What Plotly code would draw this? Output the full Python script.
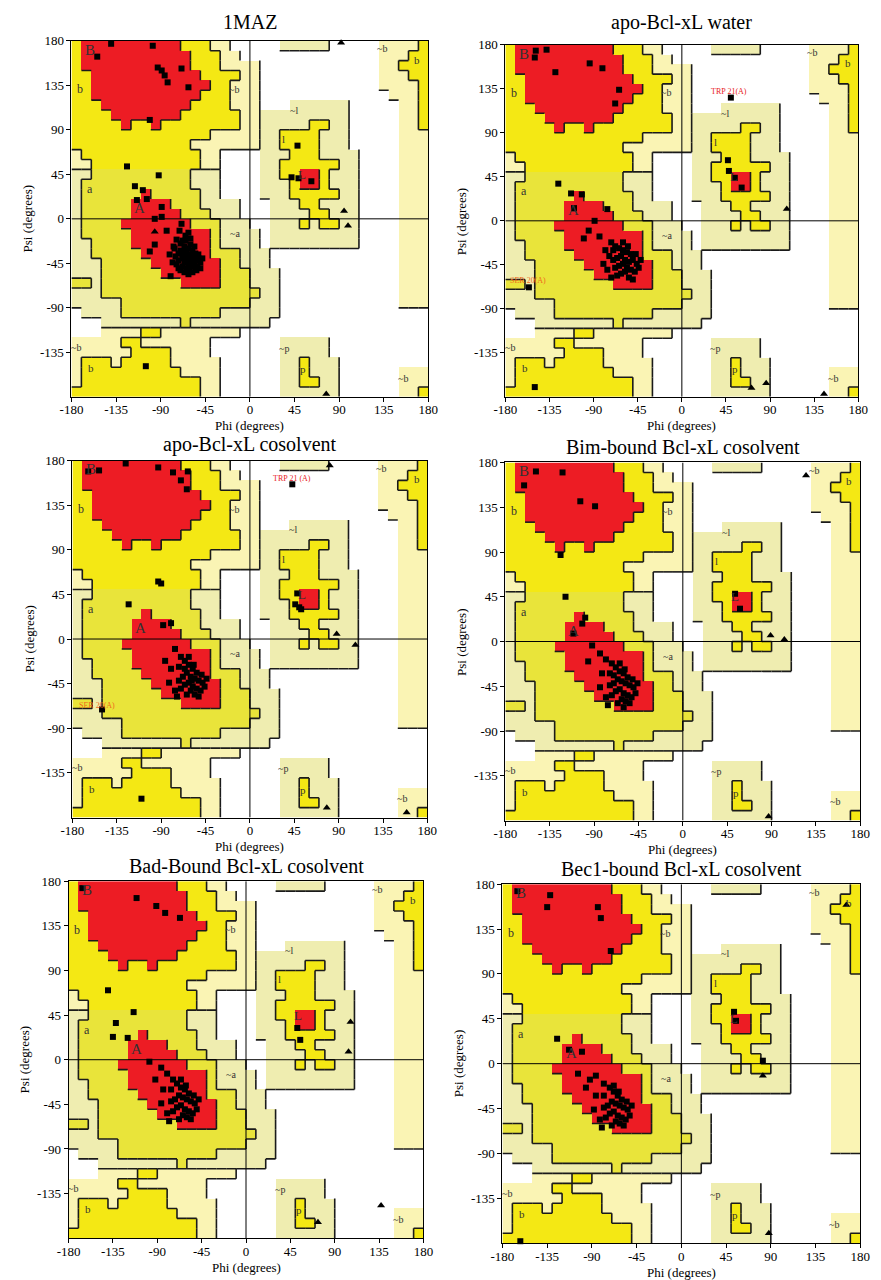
import plotly.graph_objects as go

W, H = 881, 1280

# ---------------- Ramachandran region map (10 deg cells) -----------------
# rows: psi 180 -> -180 (top to bottom); columns: phi -180 -> 180
# R core, Y allowed, P generously allowed, W disallowed
REGION_ROWS = [
    "YRRRRRRRRRRYYYPPWWWWWPPPPPWWWWWPPPPY",
    "YRRRRRRRRRRRYYYPPWWWWWWWWWWWWWWPPPYY",
    "YRRRRRRRRRRRYYYPPPPWWWWWWWWWWWWPPYYY",
    "YYRRRRRRRRRRRYYYYPPWWWWWWWWWWWWPPPYY",
    "YYRRRRRRRRRRRRYYPPPWWWWWWWWWWWWPPPPY",
    "YYRRRRRRRRRRRYYYPPPWWWWWWWWWWWWWPPPY",
    "YYYRRRRRRRRRYYYYPPPWWWPPPPPPWWWWWPPY",
    "YYYYRRRRRRRYYYYYYPPPPPPPPPPPWWWWWPPY",
    "YYYYYRYYRYYYYYYYYPPPPPPPYYPPWWWWWPPY",
    "YYYYYYYYYYYYYYPPPPPPPYYYYPPPWWWWWPPP",
    "YYYYYYYYYYYYPPPPPPPPPYYYYPPPWWWWWPPP",
    "PYYYYYYYYYYYYPPWWWWPPPYYYPPPPWWWWPPP",
    "PPYYYYYYYYYYYPPWWWWPPYYYYYYPPWWWWPPP",
    "PPYYYYYYYYYYPPPWWWWPPYYRRYPPPWWWWPPP",
    "PYYYYYYYYYYYPPPWWWWPPPYRRYPPPWWWWPPP",
    "PYYYYYYRYYYYYPPWWWWPPPYYYYYPPWWWWPPP",
    "PYYYYYRRRRYYYPPPPWWWPPPYYPPPPWWWWPPP",
    "PYYYYYRRRRRYYYPPPWWWPPPPYYPPPWWWWPPP",
    "PYYYYRRRRRRRYYYPPPWWPPPYPYYPPWWWWPPP",
    "PYYYYYRRRRRRRRYPPPPWPPPPPPPPPWWWWPPP",
    "PPYYYYRRRRRRRRYPPPPWPPPPPPPPPWWWWPPP",
    "PPYYYYYRRRRRRRYYYPPPWWWWWWWWWWWWWPPP",
    "PPPYYYYYRRRRRRRYYPPPWWWWWWWWWWWWWPPP",
    "PPPYYYYYYRRRRRRYYYPPPWWWWWWWWWWWWPPP",
    "YYPYYYYYYYYRRRRYYYPPPWWWWWWWWWWWWPPP",
    "PPPYYYYYYYYYYYYYYYYPPWWWWWWWWWWWWPPP",
    "PPPPPYYYYYYYYYYYYYPPPWWWWWWWWWWWWPPP",
    "WPPPPYYYYYYYYYYPPPPPPWWWWWWWWWWWWWWW",
    "WWWPPPPPPPPYPPPPPPPPWWWWWWWWWWWWWWWW",
    "WWWPPPPYYPPPPPPPPWWWWWWWWWWWWWWWWWWW",
    "PPPPPYYPPPPPPPWWWWWWWPPPPPWWWWWWWWWW",
    "PPPPPPYYYYPPPPWWWWWWWPPPPPWWWWWWWWWW",
    "PYYYPYYYYYPPPPPWWWWWWPPYPPPWWWWWWWWW",
    "PYYYYYYYYYYPPPPWWWWWWPPYPPPWWWWWWPPP",
    "PYYYYYYYYYYYYPPWWWWWWPPYYPPWWWWWWPPP",
    "YYYYYYYYYYYYYPPWWWWWWPPPPPPWWWWWWPPY",
]

# region labels: (text, phi, psi, size)
REGION_LABELS = [
    ("B", -161, 171, 15), ("b", -171, 131, 12), ("~b", -16, 131, 10),
    ("a", -161, 30, 12), ("A", -111, 11, 15), ("~a", -15, -15, 10),
    ("~l", 44, 110, 10), ("l", 34, 81, 11), ("L", 53, 45, 13),
    ("~b", 133, 172, 10), ("b", 169, 161, 11), ("~p", 34, -131, 10),
    ("p", 54, -152, 11), ("~b", 154, -161, 10), ("~b", -175, -130, 10),
    ("b", -160, -151, 11),
]

TITLES = ["1MAZ", "apo-Bcl-xL water", "apo-Bcl-xL cosolvent",
          "Bim-bound Bcl-xL cosolvent", "Bad-Bound Bcl-xL cosolvent",
          "Bec1-bound Bcl-xL cosolvent"]

# ---------------- residues (phi, psi) -----------------
p1_res = [(-140, 177), (-98, 175), (-154, 164), (-93, 153), (-89, 150), (-86, 145),
          (-83, 138), (-69, 152), (-62, 133), (-101, 100), (-124, 53), (-92, 44),
          (-116, 33), (-108, 29), (-114, 19), (-104, 20), (-89, 12), (-96, 0), (-89, 2),
          (48, 74), (42, 42), (49, 41), (62, 38), (-105, -149),
          (-69, -5), (-84, -12), (-71, -12), (-96, -26), (-101, -33), (-81, -36),
          (-77, -28), (-80, -58), (-65, -17), (-62, -14), (-74, -21), (-68, -22),
          (-70, -25), (-66, -28), (-62, -30), (-58, -32), (-55, -35), (-60, -36),
          (-64, -38), (-68, -40), (-72, -42), (-66, -44), (-62, -42), (-58, -40),
          (-54, -42), (-50, -44), (-56, -46), (-60, -48), (-64, -50), (-68, -48),
          (-72, -35), (-75, -38), (-70, -32), (-64, -34), (-60, -26), (-56, -28),
          (-52, -36), (-50, -50), (-54, -52), (-58, -54), (-62, -56), (-66, -54),
          (-70, -52), (-74, -46), (-76, -30), (-78, -44), (-68, -36), (-62, -46),
          (-57, -38), (-53, -48), (-48, -40), (-65, -22), (-60, -20), (-72, -50),
          (-59, -44), (-63, -40), (-67, -33), (-55, -50), (-61, -52), (-52, -40)]
p1_gly = [(92, 178), (95, 8), (99, -7), (77, -177), (-96, -13)]

p2_res = [(-149, 174), (-138, 175), (-150, 167), (-129, 152), (-94, 161), (-81, 156),
          (-64, 134), (-68, 120), (-126, 38), (-113, 28), (-102, 27), (-110, 13),
          (-76, 12), (-89, 0), (-95, -10), (-84, -16), (-100, -18),
          (47, 62), (48, 51), (54, 44), (61, 34), (50, 126), (-156, -68), (-150, -170),
          (-72, -22), (-68, -26), (-64, -28), (-60, -30), (-56, -32), (-52, -34),
          (-62, -36), (-66, -38), (-70, -40), (-74, -36), (-58, -40), (-54, -42),
          (-50, -40), (-46, -44), (-60, -44), (-64, -46), (-68, -48), (-56, -48),
          (-52, -50), (-48, -52), (-44, -48), (-58, -52), (-62, -54), (-66, -56),
          (-54, -58), (-50, -60), (-42, -40), (-78, -30), (-80, -44), (-76, -50),
          (-70, -30), (-60, -22), (-55, -26), (-47, -34), (-72, -58)]
p2_gly = [(107, 12), (71, -171), (86, -166), (145, -177)]

p3_res = [(-164, 169), (-153, 170), (-126, 177), (-93, 173), (-78, 168), (-63, 169),
          (-64, 151), (-70, 160), (-93, 58), (-90, 56), (-123, 35), (-88, 14),
          (-80, 16), (43, 156), (48, 46), (50, 32), (46, 35), (52, 30),
          (-150, -71), (-110, -161),
          (-76, -10), (-70, -18), (-66, -22), (-62, -26), (-58, -30), (-54, -34),
          (-64, -34), (-68, -38), (-72, -42), (-60, -38), (-56, -40), (-52, -42),
          (-48, -44), (-62, -44), (-66, -46), (-70, -50), (-58, -48), (-54, -50),
          (-50, -52), (-46, -48), (-60, -52), (-64, -56), (-56, -56), (-52, -58),
          (-44, -40), (-80, -30), (-82, -44), (-76, -52), (-72, -28), (-62, -18),
          (-57, -26), (-49, -36), (-74, -58), (-86, -22), (-66, -30), (-59, -42)]
p3_gly = [(81, 175), (88, 5), (107, -6), (78, -170), (159, -175)]

p4_res = [(-161, 157), (-149, 171), (-122, 170), (-104, 141), (-89, 136), (-124, 87),
          (-119, 45), (-99, 24), (-102, 18), (-111, 8), (58, 33), (53, 48),
          (-92, -4), (-84, -12), (-96, -20), (-78, -18), (-72, -22), (-68, -26),
          (-64, -30), (-60, -32), (-56, -36), (-66, -38), (-70, -42), (-74, -44),
          (-62, -40), (-58, -42), (-54, -44), (-50, -46), (-64, -48), (-68, -50),
          (-72, -54), (-60, -52), (-56, -54), (-52, -56), (-48, -52), (-62, -58),
          (-66, -62), (-58, -60), (-54, -62), (-46, -42), (-82, -32), (-84, -46),
          (-78, -56), (-74, -32), (-64, -22), (-59, -28), (-51, -38), (-76, -64),
          (-60, -66), (-70, -34)]
p4_gly = [(125, 167), (89, 6), (103, 2), (87, -176)]

p5_res = [(-166, 173), (-111, 163), (-91, 155), (-82, 148), (-67, 143),
          (-140, 70), (-114, 48), (-132, 37), (-135, 23), (-120, 22),
          (52, 32), (55, 20),
          (-98, -2), (-86, -8), (-80, -14), (-92, -20), (-74, -20), (-70, -24),
          (-66, -28), (-62, -30), (-58, -34), (-68, -36), (-72, -40), (-76, -42),
          (-64, -38), (-60, -40), (-56, -42), (-52, -44), (-66, -46), (-70, -48),
          (-74, -52), (-62, -50), (-58, -52), (-54, -54), (-50, -50), (-64, -56),
          (-68, -60), (-60, -58), (-56, -60), (-48, -40), (-84, -30), (-86, -44),
          (-80, -54), (-76, -30), (-66, -20), (-61, -26), (-53, -36), (-78, -62)]
p5_gly = [(106, 38), (104, 8), (137, -147), (73, -164)]

p6_res = [(-165, 173), (-135, 157), (-132, 169), (-84, 157), (-81, 146), (-71, 113),
          (-125, 25), (-113, 14), (-100, 12), (53, 52), (55, 43), (82, 3), (-162, -178),
          (-104, -10), (-92, -16), (-86, -12), (-96, -24), (-78, -20), (-72, -24),
          (-68, -28), (-64, -32), (-60, -36), (-70, -38), (-74, -42), (-78, -44),
          (-66, -40), (-62, -42), (-58, -44), (-54, -46), (-68, -48), (-72, -50),
          (-76, -54), (-64, -52), (-60, -54), (-56, -56), (-52, -52), (-66, -58),
          (-70, -62), (-62, -60), (-58, -62), (-50, -42), (-86, -32), (-88, -46),
          (-82, -56), (-78, -32), (-68, -22), (-63, -28), (-55, -38), (-80, -64)]
p6_gly = [(166, 159), (82, -12), (88, -170)]

RESIDUES = [p1_res, p2_res, p3_res, p4_res, p5_res, p6_res]
GLYCINES = [p1_gly, p2_gly, p3_gly, p4_gly, p5_gly, p6_gly]

# labelled outliers: (panel index, text, phi, psi, colour)
OUTLIER_LABELS = [
    (1, "TRP 21(A)", 48, 132, "#e8201c"), (1, "SER 20(A)", -157, -61, "#f06a1c"),
    (2, "TRP 21 (A)", 43, 162, "#e8201c"), (2, "SER 20(A)", -155, -67, "#f06a1c"),
]

TICKS = [-180, -135, -90, -45, 0, 45, 90, 135, 180]

# ---------------- layout geometry (pixels) -----------------
BOXES = [(61, 427, 34, 392), (506, 868, 38, 392),
         (62, 426, 456, 815), (506, 870, 458, 818),
         (58, 422, 879, 1238), (503, 870, 882, 1243)]
TITLE_Y = [15, 16, 440, 442, 864, 867]

CODES = {"W": 0, "Q": 1, "P": 2, "A": 3, "Y": 4, "R": 5}
COLORS = ["#ffffff", "#efedb0", "#faf4b4", "#e9e43a", "#f4e814", "#ed1c24"]


def shade(r, c, ch):
    olive_zone = 13 <= r <= 28 and c <= 18
    green_zone = olive_zone or (19 <= c <= 30)
    if ch == "Y" and olive_zone:
        return "A"
    if ch == "P" and green_zone:
        return "Q"
    return ch


grid = [[shade(r, c, ch) for c, ch in enumerate(row)] for r, row in enumerate(REGION_ROWS)]
z = [[CODES[ch] for ch in row] for row in grid]
n = len(REGION_ROWS)
cell = 360 / n
xc = [-180 + cell * (i + 0.5) for i in range(n)]
yc = [180 - cell * (j + 0.5) for j in range(n)]

colorscale = []
for k, col in enumerate(COLORS):
    colorscale.append([k / len(COLORS), col])
    colorscale.append([(k + 1) / len(COLORS), col])


def fam(ch):
    return {"W": "W", "Q": "Q", "P": "P", "A": "Y", "Y": "Y", "R": "R"}[ch]


# boundary lines: drawn on bottom / right edges of non-white cells
seg_x, seg_y = [], []
for j in range(n):
    for i in range(n):
        a = fam(grid[j][i])
        if a == "W":
            continue
        if j + 1 < n:
            b = fam(grid[j + 1][i])
            if b != a and b != "R":
                yv = 180 - cell * (j + 1)
                seg_x += [-180 + cell * i, -180 + cell * (i + 1), None]
                seg_y += [yv, yv, None]
        if i + 1 < n:
            b = fam(grid[j][i + 1])
            if b != a and b != "R":
                xv = -180 + cell * (i + 1)
                seg_x += [xv, xv, None]
                seg_y += [180 - cell * j, 180 - cell * (j + 1), None]

fig = go.Figure()
layout = dict(width=W, height=H, margin=dict(l=0, r=0, t=0, b=0),
              paper_bgcolor="white", plot_bgcolor="white", showlegend=False)
annotations = []
shapes = []
FONT = "Liberation Serif"

for k in range(6):
    x0, x1, y0, y1 = BOXES[k]
    xa = "x" if k == 0 else f"x{k+1}"
    ya = "y" if k == 0 else f"y{k+1}"
    xkey = "xaxis" if k == 0 else f"xaxis{k+1}"
    ykey = "yaxis" if k == 0 else f"yaxis{k+1}"
    fig.add_trace(go.Heatmap(z=z, x=xc, y=yc, colorscale=colorscale, zmin=-0.5, zmax=5.5,
                             showscale=False, hoverinfo="skip", xaxis=xa, yaxis=ya))
    fig.add_trace(go.Scatter(x=seg_x, y=seg_y, mode="lines",
                             line=dict(color="#1a1a1a", width=1.6),
                             hoverinfo="skip", xaxis=xa, yaxis=ya))
    res = RESIDUES[k]
    gly = GLYCINES[k]
    fig.add_trace(go.Scatter(x=[p[0] for p in res], y=[p[1] for p in res], mode="markers",
                             marker=dict(symbol="square", size=6, color="black"),
                             cliponaxis=False, xaxis=xa, yaxis=ya))
    fig.add_trace(go.Scatter(x=[p[0] for p in gly], y=[p[1] for p in gly], mode="markers",
                             marker=dict(symbol="triangle-up", size=7, color="black"),
                             cliponaxis=False, xaxis=xa, yaxis=ya))
    axis_common = dict(range=[-180, 180], showgrid=False, zeroline=False, showline=True,
                       mirror=True, linecolor="black", linewidth=1, ticks="outside",
                       ticklen=4, tickcolor="black",
                       tickfont=dict(family=FONT, size=13, color="black"))
    layout[xkey] = dict(axis_common, domain=[x0 / W, x1 / W], anchor=ya,
                        tickvals=TICKS, ticktext=[str(t) for t in TICKS],
                        ticklabelstandoff=-3)
    layout[ykey] = dict(axis_common, domain=[1 - y1 / H, 1 - y0 / H], anchor=xa,
                        tickvals=TICKS[1:], ticktext=[str(t) for t in TICKS[1:]])
    # zero lines
    shapes.append(dict(type="line", xref=xa, yref=ya, x0=-180, x1=180, y0=0, y1=0,
                       line=dict(color="black", width=1)))
    shapes.append(dict(type="line", xref=xa, yref=ya, x0=0, x1=0, y0=-180, y1=180,
                       line=dict(color="black", width=1)))
    # titles
    annotations.append(dict(text=TITLES[k], x=(x0 + x1) / 2 / W, y=1 - TITLE_Y[k] / H,
                            xref="paper", yref="paper", showarrow=False,
                            font=dict(family=FONT, size=20, color="black"),
                            xanchor="center", yanchor="middle"))
    annotations.append(dict(text="Phi (degrees)", x=(x0 + x1) / 2 / W, y=1 - (y1 + 29) / H,
                            xref="paper", yref="paper", showarrow=False,
                            font=dict(family=FONT, size=13, color="black"),
                            xanchor="center", yanchor="middle"))
    annotations.append(dict(text="Psi (degrees)", x=(x0 - 45) / W, y=1 - (y0 + y1) / 2 / H,
                            xref="paper", yref="paper", showarrow=False, textangle=-90,
                            font=dict(family=FONT, size=13, color="black"),
                            xanchor="center", yanchor="middle"))
    for (t, ph, ps, sz) in REGION_LABELS:
        annotations.append(dict(text=t, x=ph, y=ps, xref=xa, yref=ya, showarrow=False,
                                font=dict(family=FONT, size=sz, color="#333333"),
                                xanchor="center", yanchor="middle"))

for (k, t, ph, ps, col) in OUTLIER_LABELS:
    xa = "x" if k == 0 else f"x{k+1}"
    ya = "y" if k == 0 else f"y{k+1}"
    annotations.append(dict(text=t, x=ph, y=ps, xref=xa, yref=ya, showarrow=False,
                            font=dict(family=FONT, size=8, color=col),
                            xanchor="center", yanchor="middle"))

layout["annotations"] = annotations
layout["shapes"] = shapes
fig.update_layout(**layout)
fig.write_html("out.html")
